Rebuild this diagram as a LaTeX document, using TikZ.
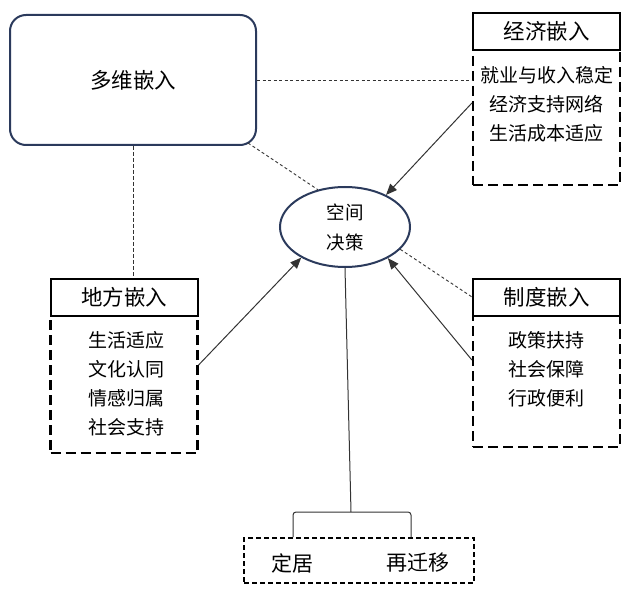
\documentclass[tikz,border=0pt]{standalone}
\usepackage{fontspec}
\setmainfont{Noto Sans CJK SC}
\usetikzlibrary{arrows.meta,shapes.geometric}
\definecolor{navy}{HTML}{2B3A5C}
\definecolor{arrowgray}{HTML}{333333}
\tikzset{
  rbox/.style={draw=navy, line width=2pt, rounded corners=16pt, minimum width=246pt, minimum height=130pt, font=\fontsize{21.5}{24}\selectfont},
  titlebox/.style={draw=black, line width=2pt, minimum width=147pt, minimum height=37pt, font=\fontsize{21.5}{24}\selectfont, inner sep=0pt},
  bodybox/.style={draw=black, line width=2.2pt, dash pattern=on 10pt off 5pt, minimum width=147pt, inner sep=0pt},
  bodytext/.style={align=center, font=\fontsize{19}{29}\selectfont, inner sep=0pt},
  ell/.style={ellipse, draw=navy, line width=2pt, minimum width=130pt, minimum height=80pt, inner sep=0pt, align=center, font=\fontsize{18.5}{30}\selectfont},
  thindash/.style={draw=black!80, line width=0.9pt, dash pattern=on 3pt off 2.5pt},
  arr/.style={draw=arrowgray, line width=1pt, -{Triangle[length=11pt,width=9pt]}},
  outbox/.style={draw=black, line width=2pt, dash pattern=on 5pt off 3pt, minimum width=230pt, minimum height=45pt},
  outtext/.style={font=\fontsize{21}{24}\selectfont, inner sep=0pt}
}
\begin{document}
\begin{tikzpicture}[x=1pt,y=-1pt]
\useasboundingbox (0,0) rectangle (627,591);
% main nodes
\node[rbox] (multi) at (133,80) {多维嵌入};
\node[titlebox] (econtitle) at (546.5,31.5) {经济嵌入};
\node[bodybox, minimum height=135pt] (econbody) at (546.5,117.5) {};
\node[bodytext] (econtext) at (546.5,104) {就业与收入稳定\\经济支持网络\\生活成本适应};
\node[ell] (space) at (345,227) {空间\\决策};
\node[titlebox] (placetitle) at (124,297) {地方嵌入};
\node[bodybox, minimum height=137pt] (placebody) at (124,384.5) {};
\node[bodytext] (placetext) at (126,383.5) {生活适应\\文化认同\\情感归属\\社会支持};
\node[titlebox] (insttitle) at (546.5,297) {制度嵌入};
\node[bodybox, minimum height=131pt] (instbody) at (546.5,381.5) {};
\node[bodytext] (insttext) at (546.5,369) {政策扶持\\社会保障\\行政便利};
\node[outbox] (outcome) at (359,560.5) {};
\node[outtext] (settle) at (292,563) {定居};
\node[outtext] (remig) at (418,563) {再迁移};
% connectors
\draw[thindash] (multi.east) -- (econbody.west |- multi.east);
\draw[thindash] ([shift={(-9pt,3pt)}]multi.south east) -- (space.126);
\draw[thindash, dash pattern=on 4pt off 2pt] (multi.south -| 133,0) -- (placetitle.north -| 133,0);
\draw[thindash] (space.-22) -- (insttitle.west);
\draw[arr] ([yshift=14.5pt]econbody.west) -- (space.38);
\draw[arr] ([yshift=19.5pt]placebody.east) -- (space.215);
\draw[arr] ([yshift=21.5pt]instbody.west) -- (space.-36);
% bracket
\coordinate (fork) at (351,512);
\coordinate (bl) at (293,537);
\coordinate (br) at (411,537);
\draw[black!80, line width=1pt] (space.south) -- (fork);
\draw[black!80, line width=1pt, rounded corners=3pt] (bl) -- (bl |- fork) -- (br |- fork) -- (br);
\end{tikzpicture}
\end{document}
